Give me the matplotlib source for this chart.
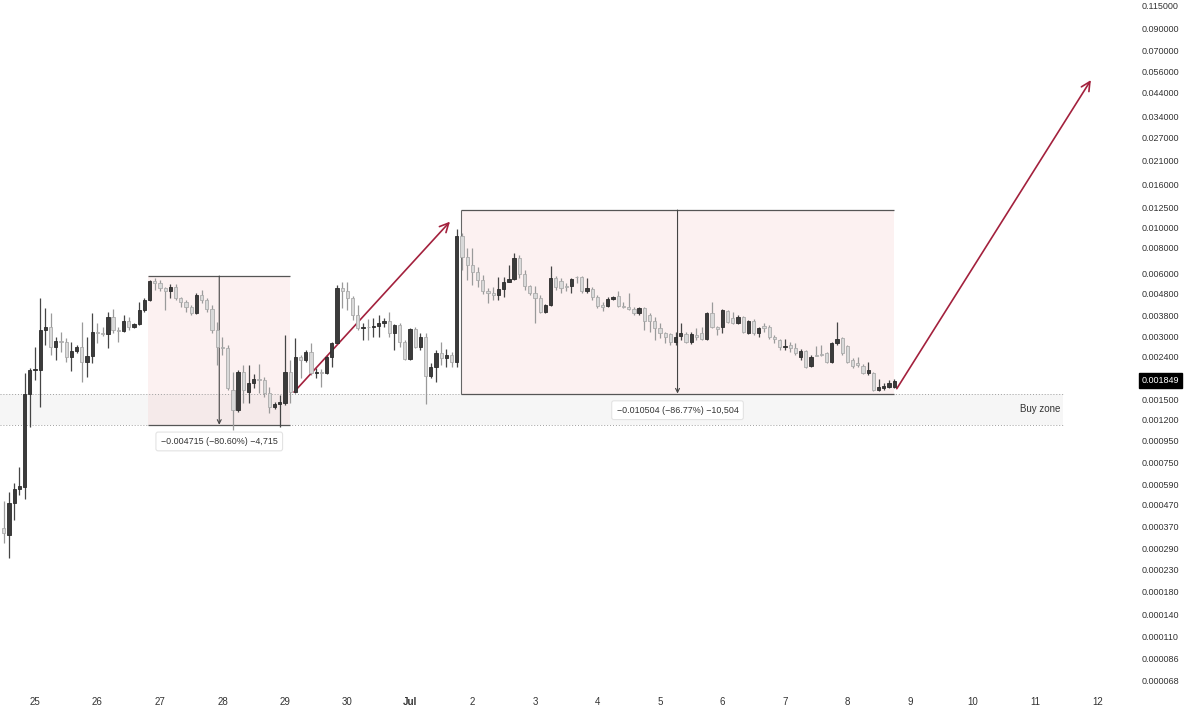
import numpy as np
import pandas as pd
import matplotlib
matplotlib.use('Agg')
import matplotlib.pyplot as plt
import matplotlib.dates as mdates
from matplotlib.ticker import NullLocator

plt.rcParams['font.family'] = ['Liberation Sans', 'DejaVu Sans']

# 2h candles (price, log scale)
opens = [0.000363, 0.000336, 0.000478, 0.000558, 0.000570, 0.001591, 0.002074, 0.002074, 0.003223, 0.003332,
         0.002672, 0.002855, 0.002824, 0.002393, 0.002557, 0.002672, 0.002265, 0.002420, 0.003153, 0.003118,
         0.003084, 0.003721, 0.003223, 0.003188, 0.003560, 0.003332, 0.003444, 0.004019, 0.004487, 0.005534,
         0.005413, 0.005123, 0.004956, 0.005180, 0.004588, 0.004390, 0.004154, 0.003888, 0.004742, 0.004487,
         0.004064, 0.003223, 0.002672, 0.002643, 0.001663, 0.001334, 0.002028, 0.001627, 0.001797, 0.001878,
         0.001857, 0.001609, 0.001379, 0.001425, 0.001441, 0.002028, 0.001627, 0.002393, 0.002315, 0.002529,
         0.002006, 0.002028, 0.002006, 0.002393, 0.002793, 0.005123, 0.004956, 0.004588, 0.003804, 0.003295,
         0.003332, 0.003332, 0.003369, 0.003482, 0.003560, 0.003118, 0.003406, 0.002824, 0.002341, 0.003259,
         0.002672, 0.002984, 0.001941, 0.002143, 0.002501, 0.002367, 0.002447, 0.002265, 0.009090, 0.007211,
         0.006602, 0.006111, 0.005595, 0.004956, 0.004848, 0.004742, 0.005067, 0.005473, 0.005658, 0.007132,
         0.005978, 0.005237, 0.004848, 0.004588, 0.003931, 0.004247, 0.005720, 0.005534, 0.005237, 0.005237,
         0.005783, 0.005783, 0.004956, 0.005067, 0.004639, 0.004247, 0.004200, 0.004538, 0.004690, 0.004200,
         0.004180, 0.004064, 0.003888, 0.004109, 0.003804, 0.003560, 0.003295, 0.003118, 0.003084, 0.002824,
         0.003017, 0.003084, 0.002824, 0.003050, 0.003118, 0.002919, 0.003888, 0.003332, 0.003332, 0.003975,
         0.003680, 0.003482, 0.003721, 0.003118, 0.003560, 0.003118, 0.003369, 0.003332, 0.002984, 0.002887,
         0.002672, 0.002732, 0.002643, 0.002393, 0.002557, 0.002167, 0.002447, 0.002474, 0.002501, 0.002265,
         0.002793, 0.002951, 0.002702, 0.002315, 0.002240, 0.002167, 0.002006, 0.002006, 0.001663, 0.001700,
         0.001719, 0.001719]
highs = [0.000489, 0.000540, 0.000596, 0.000711, 0.002006, 0.002120, 0.002672, 0.004588, 0.004109, 0.003888,
         0.002984, 0.003153, 0.002951, 0.002824, 0.002732, 0.003521, 0.002984, 0.003888, 0.003482, 0.003332,
         0.003931, 0.004064, 0.003332, 0.003804, 0.003721, 0.003482, 0.004390, 0.004588, 0.005595, 0.005720,
         0.005595, 0.005180, 0.005354, 0.005354, 0.004639, 0.004487, 0.004247, 0.004848, 0.005011, 0.004588,
         0.004247, 0.003521, 0.002984, 0.002732, 0.002028, 0.002074, 0.002191, 0.002191, 0.001984, 0.002215,
         0.001920, 0.001719, 0.001457, 0.001574, 0.003050, 0.002315, 0.002951, 0.002447, 0.002585, 0.002793,
         0.002120, 0.002097, 0.002447, 0.002824, 0.005295, 0.005473, 0.005473, 0.004690, 0.004247, 0.003482,
         0.003640, 0.003680, 0.003804, 0.003680, 0.003931, 0.003444, 0.003482, 0.002887, 0.003295, 0.003332,
         0.003118, 0.003118, 0.002240, 0.002585, 0.002824, 0.002614, 0.002529, 0.009820, 0.009396, 0.007963,
         0.007963, 0.006458, 0.005912, 0.005123, 0.005180, 0.005783, 0.005783, 0.006602, 0.007536, 0.007372,
         0.006247, 0.005295, 0.005237, 0.004742, 0.004294, 0.006529, 0.005848, 0.005720, 0.005413, 0.005720,
         0.005848, 0.005848, 0.005720, 0.005180, 0.004742, 0.004390, 0.004639, 0.004690, 0.004956, 0.004390,
         0.004848, 0.004154, 0.004154, 0.004154, 0.003888, 0.003721, 0.003482, 0.003153, 0.003118, 0.003153,
         0.003482, 0.003153, 0.003153, 0.003295, 0.003332, 0.003931, 0.004390, 0.003369, 0.004064, 0.004019,
         0.003931, 0.003804, 0.003762, 0.003599, 0.003640, 0.003332, 0.003482, 0.003406, 0.003050, 0.002919,
         0.002919, 0.002824, 0.002793, 0.002614, 0.002585, 0.002447, 0.002702, 0.002732, 0.002529, 0.002824,
         0.003521, 0.002984, 0.002732, 0.002367, 0.002393, 0.002215, 0.002265, 0.002028, 0.001878, 0.001797,
         0.001857, 0.001870]
lows = [0.000308, 0.000261, 0.000397, 0.000522, 0.000500, 0.001107, 0.001857, 0.001379, 0.002732, 0.002447,
        0.002315, 0.002529, 0.002265, 0.002051, 0.002501, 0.001816, 0.001920, 0.002240, 0.002793, 0.003017,
        0.002643, 0.003118, 0.002824, 0.003153, 0.003223, 0.003295, 0.003406, 0.003931, 0.004438, 0.005011,
        0.004956, 0.004019, 0.004588, 0.004487, 0.004154, 0.003931, 0.003804, 0.003846, 0.004341, 0.003931,
        0.003118, 0.002191, 0.002447, 0.001663, 0.001070, 0.001305, 0.001441, 0.001441, 0.001700, 0.001609,
        0.001540, 0.001291, 0.001349, 0.001107, 0.001409, 0.001441, 0.001609, 0.001899, 0.002265, 0.001962,
        0.001899, 0.001719, 0.001984, 0.002143, 0.002762, 0.004109, 0.004019, 0.003599, 0.003223, 0.002887,
        0.002887, 0.002984, 0.002984, 0.003332, 0.002984, 0.002585, 0.002672, 0.002315, 0.002315, 0.002643,
        0.002585, 0.001425, 0.001899, 0.001816, 0.002191, 0.002143, 0.002143, 0.002143, 0.006247, 0.005595,
        0.005295, 0.005180, 0.004795, 0.004341, 0.004487, 0.004487, 0.004639, 0.005473, 0.005595, 0.005720,
        0.005011, 0.004742, 0.003482, 0.003888, 0.003888, 0.004200, 0.005011, 0.004848, 0.004956, 0.004848,
        0.005413, 0.004848, 0.004848, 0.004487, 0.004109, 0.003975, 0.004154, 0.004487, 0.004154, 0.004109,
        0.004019, 0.003804, 0.003804, 0.003223, 0.003153, 0.002887, 0.002951, 0.002793, 0.002732, 0.002732,
        0.002887, 0.002793, 0.002762, 0.002887, 0.002887, 0.002887, 0.003295, 0.003050, 0.003118, 0.003482,
        0.003444, 0.003444, 0.003118, 0.003084, 0.003050, 0.002984, 0.003153, 0.002919, 0.002793, 0.002585,
        0.002585, 0.002529, 0.002447, 0.002315, 0.002120, 0.002143, 0.002420, 0.002420, 0.002240, 0.002240,
        0.002732, 0.002447, 0.002240, 0.002120, 0.002143, 0.001984, 0.001962, 0.001645, 0.001645, 0.001663,
        0.001700, 0.001700]
closes = [0.000344, 0.000478, 0.000558, 0.000577, 0.001591, 0.002074, 0.002097, 0.003223, 0.003332, 0.002672,
          0.002855, 0.002824, 0.002393, 0.002557, 0.002672, 0.002265, 0.002420, 0.003153, 0.003118, 0.003084,
          0.003721, 0.003223, 0.003188, 0.003560, 0.003332, 0.003444, 0.004019, 0.004487, 0.005534, 0.005413,
          0.005123, 0.004956, 0.005180, 0.004588, 0.004390, 0.004154, 0.003888, 0.004742, 0.004487, 0.004064,
          0.003223, 0.002672, 0.002643, 0.001700, 0.001334, 0.002028, 0.001663, 0.001797, 0.001878, 0.001857,
          0.001609, 0.001379, 0.001425, 0.001457, 0.002028, 0.001627, 0.002393, 0.002315, 0.002529, 0.002006,
          0.002028, 0.002006, 0.002393, 0.002793, 0.005123, 0.004956, 0.004588, 0.003804, 0.003295, 0.003332,
          0.003320, 0.003369, 0.003482, 0.003560, 0.003118, 0.003406, 0.002824, 0.002341, 0.003259, 0.002672,
          0.002984, 0.001941, 0.002143, 0.002501, 0.002367, 0.002447, 0.002265, 0.009090, 0.007211, 0.006602,
          0.006111, 0.005595, 0.004956, 0.004848, 0.004742, 0.005067, 0.005473, 0.005658, 0.007132, 0.005978,
          0.005237, 0.004848, 0.004588, 0.003931, 0.004247, 0.005720, 0.005180, 0.005123, 0.005200, 0.005658,
          0.005760, 0.004956, 0.005123, 0.004639, 0.004200, 0.004154, 0.004538, 0.004639, 0.004200, 0.004180,
          0.004064, 0.003888, 0.004109, 0.003560, 0.003560, 0.003295, 0.003118, 0.002984, 0.002824, 0.002984,
          0.003118, 0.002824, 0.003084, 0.002984, 0.002919, 0.003888, 0.003332, 0.003259, 0.004019, 0.003521,
          0.003482, 0.003721, 0.003153, 0.003560, 0.003118, 0.003295, 0.003295, 0.002984, 0.002919, 0.002672,
          0.002702, 0.002643, 0.002501, 0.002557, 0.002143, 0.002393, 0.002430, 0.002460, 0.002265, 0.002793,
          0.002919, 0.002501, 0.002265, 0.002167, 0.002191, 0.002006, 0.002074, 0.001663, 0.001719, 0.001738,
          0.001797, 0.001849]

price_ticks = [0.115, 0.09, 0.07, 0.056, 0.044, 0.034, 0.027, 0.021, 0.016, 0.0125, 0.01, 0.008, 0.006,
               0.0048, 0.0038, 0.003, 0.0024, 0.0015, 0.0012, 0.00095, 0.00075, 0.00059, 0.00047, 0.00037,
               0.00029, 0.00023, 0.00018, 0.00014, 0.00011, 0.000086, 0.000068]
last_price = 0.001849

# price range tools: (top, bottom)
range1 = (0.0058499, 0.0011349)
range2 = (0.012106, 0.0016016)
range1_text = '\u22120.004715 (\u221280.60%) \u22124,715'
range2_text = '\u22120.010504 (\u221286.77%) \u221210,504'

times = pd.date_range('2024-06-24 12:00', periods=len(closes), freq='2h')
day_ticks = pd.date_range('2024-06-25', '2024-07-12', freq='D')
day_labels = ['Jul' if d.day == 1 else str(d.day) for d in day_ticks]

x = mdates.date2num(times)
t0 = mdates.date2num(pd.Timestamp('2024-06-25'))
o, h, l, c = map(np.array, (opens, highs, lows, closes))

fig = plt.figure(figsize=(11.99, 7.28), dpi=100)
ax = fig.add_axes([0, 38 / 728, 1118 / 1199, 690 / 728])
ax.set_yscale('log')
ax.set_xlim(t0 - 0.56, t0 + 17.33)
ax.set_ylim(0.000061, 0.1226)

# buy zone band
zone_end = t0 + 16.45
ax.fill_between([t0 - 0.56, zone_end], range1[1], range2[1], color='#808080', alpha=0.07, lw=0, zorder=1)
ax.hlines([range2[1], range1[1]], t0 - 0.56, zone_end, color='#a0a0a0', lw=0.7,
          linestyles=(0, (1, 2)), zorder=2)
ax.text(t0 + 16.08, (range1[1] * range2[1]) ** 0.5, 'Buy zone', ha='center', va='center',
        fontsize=7, color='#333333')

# price range boxes
for (top, bot), i0, i1, txt in [(range1, 28, 55, range1_text), (range2, 88, 171, range2_text)]:
    x0, x1 = x[i0] - 0.02, x[i1]
    xm = (x0 + x1) / 2
    ax.fill_between([x0, x1], bot, top, color='#f4c6c6', alpha=0.24, lw=0, zorder=1)
    ax.hlines([top, bot], x0, x1, color='#555555', lw=0.9, zorder=2)
    ax.annotate('', xy=(xm, bot), xytext=(xm, top),
                arrowprops=dict(arrowstyle='->', color='#444444', lw=0.8, shrinkA=0, shrinkB=0,
                                mutation_scale=7), zorder=2)
    ax.annotate(txt, xy=(xm, bot), xytext=(0, -12), textcoords='offset points', ha='center',
                va='center', fontsize=6.4, color='#333333', zorder=6,
                bbox=dict(boxstyle='round,pad=0.55,rounding_size=0.25', fc='white', ec='#e3e3e3', lw=0.8))
ax.vlines(x[88] - 0.02, range2[1], range2[0], color='#666666', lw=0.8, zorder=2)

# candles
up = c >= o
bot = np.minimum(o, c)
top = np.maximum(np.maximum(o, c), bot * 1.009)
w = 0.62 / 12
ax.vlines(x[up], l[up], h[up], color='#454545', lw=0.9, zorder=3)
ax.vlines(x[~up], l[~up], h[~up], color='#9a9a9a', lw=0.9, zorder=3)
ax.bar(x[up], top[up] - bot[up], bottom=bot[up], width=w, color='#3b3b3b', edgecolor='#2b2b2b',
       lw=0.6, zorder=4)
ax.bar(x[~up], top[~up] - bot[~up], bottom=bot[~up], width=w, color='#d9d9d9', edgecolor='#ababab',
       lw=0.6, zorder=4)

# red projection arrows
red = '#a3213d'
ax.annotate('', xy=(t0 + 6.64, 0.01065), xytext=(t0 + 4.144, 0.001627),
            arrowprops=dict(arrowstyle='->', color=red, lw=1.2, shrinkA=0, shrinkB=0, mutation_scale=16))
ax.annotate('', xy=(t0 + 16.896, 0.0507), xytext=(t0 + 13.79, 0.00169),
            arrowprops=dict(arrowstyle='->', color=red, lw=1.2, shrinkA=0, shrinkB=0, mutation_scale=16))

# axes
ax.set_yticks(price_ticks)
ax.set_yticklabels([f'{p:.6f}' for p in price_ticks])
ax.yaxis.set_minor_locator(NullLocator())
ax.yaxis.tick_right()
ax.tick_params(axis='y', length=0, pad=17, labelsize=6.5, labelcolor='#333333')
ax.set_xticks(mdates.date2num(day_ticks))
ax.set_xticklabels(day_labels)
ax.tick_params(axis='x', length=0, pad=5, labelsize=7, labelcolor='#333333')
for lab in ax.get_xticklabels():
    if lab.get_text() == 'Jul':
        lab.set_fontweight('bold')
for s in ax.spines.values():
    s.set_visible(False)

ax.text(1.0215, last_price, f'{last_price:.6f}', transform=ax.get_yaxis_transform(), ha='left',
        va='center', fontsize=6.5, color='white', zorder=7, clip_on=False,
        bbox=dict(boxstyle='square,pad=0.3', fc='black', ec='black'))

fig.savefig('out.png', dpi=100)
